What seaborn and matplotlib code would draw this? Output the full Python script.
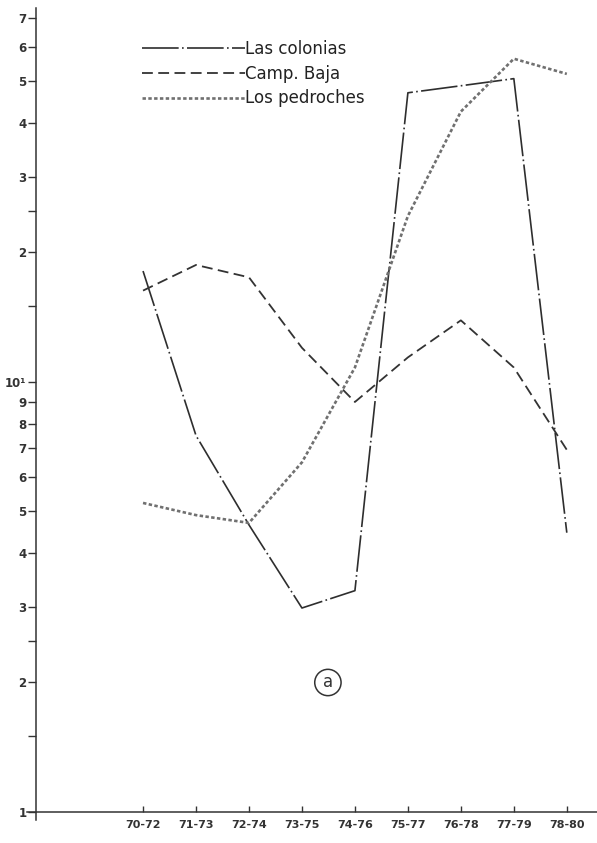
import matplotlib
matplotlib.use("Agg")
import matplotlib.pyplot as plt
from matplotlib.ticker import FixedLocator, FixedFormatter, NullFormatter
import numpy as np
import pandas as pd
import seaborn as sns

# datos (escala logaritmica)
periodos = ["70-72", "71-73", "72-74", "73-75", "74-76", "75-77", "76-78", "77-79", "78-80"]
las_colonias = [18.1, 7.5, 4.65, 2.98, 3.27, 47.0, 48.8, 50.7, 4.46]
camp_baja = [16.3, 18.7, 17.5, 12.0, 8.98, 11.4, 13.9, 10.8, 6.95]
los_pedroches = [5.23, 4.9, 4.7, 6.5, 10.8, 24.3, 42.5, 56.4, 52.0]
series = ["Las colonias", "Camp. Baja", "Los pedroches"]

y_ticks = [1, 2, 3, 4, 5, 6, 7, 8, 9, 10, 20, 30, 40, 50, 60, 70]
y_labels = ["1", "2", "3", "4", "5", "6", "7", "8", "9", "10¹", "2", "3", "4", "5", "6", "7"]
y_minor = [1.5, 2.5, 15, 25]

df = pd.DataFrame({
    "periodo": periodos * 3,
    "valor": las_colonias + camp_baja + los_pedroches,
    "serie": [s for s in series for _ in periodos],
})

sns.set_theme(style="ticks")
plt.rcParams["font.family"] = ["DejaVu Sans"]

W, H = 597, 843
fig = plt.figure(figsize=(W / 100, H / 100), dpi=100)
# posicion de los ejes en pixeles
px_left, px_right, px_bottom, px_top = 26.5, 597, 819.6, 8
ax = fig.add_axes([px_left / W, (H - px_bottom) / H,
                   (px_right - px_left) / W, (px_bottom - px_top) / H])

palette = {"Las colonias": "#2e2e2e", "Camp. Baja": "#333333", "Los pedroches": "#707070"}
dashes = {"Las colonias": (22, 2, 1, 2), "Camp. Baja": (6, 3), "Los pedroches": (1.3, 0.9)}
sizes = {"Las colonias": 1.2, "Camp. Baja": 1.3, "Los pedroches": 1.9}

sns.lineplot(data=df, x="periodo", y="valor", hue="serie", style="serie", size="serie",
             palette=palette, dashes=dashes, sizes=sizes, hue_order=series,
             style_order=series, size_order=series, sort=False, legend=False, ax=ax)

ax.set_yscale("log")
ax.set_ylim(0.96, 74)
ax.set_xlim(-2.2, 8.57)
ax.spines["left"].set_position(("data", -2.02))
ax.spines["bottom"].set_position(("data", 1))
ax.spines["top"].set_visible(False)
ax.spines["right"].set_visible(False)
for s in ["left", "bottom"]:
    ax.spines[s].set_color("#333333")
    ax.spines[s].set_linewidth(1.1)

ax.yaxis.set_major_locator(FixedLocator(y_ticks))
ax.yaxis.set_major_formatter(FixedFormatter(y_labels))
ax.yaxis.set_minor_locator(FixedLocator(y_minor))
ax.yaxis.set_minor_formatter(NullFormatter())
ax.tick_params(axis="y", which="both", direction="out", length=6, width=1,
               pad=1, labelsize=8.5, colors="#333333")
ax.tick_params(axis="x", direction="in", length=4, width=1, pad=6,
               labelsize=8, colors="#333333")
ax.set_xticks(range(len(periodos)))
ax.set_xticklabels(periodos)
ax.set_xlabel("")
ax.set_ylabel("")
for lab in ax.get_yticklabels() + ax.get_xticklabels():
    lab.set_fontweight("semibold")

# leyenda
handles = ax.get_lines()[:3]
leg = ax.legend(handles, series, loc="upper left", bbox_to_anchor=(0.19, 0.969),
                frameon=False, handlelength=6.2, handletextpad=0.0,
                labelspacing=0.41, fontsize=12, borderaxespad=0)
for t in leg.get_texts():
    t.set_color("#222222")

ax.text(3.49, 2.0, "a", ha="center", va="center", fontsize=12, color="#333333",
        bbox=dict(boxstyle="circle,pad=0.25", fc="none", ec="#333333", lw=1.1))

fig.savefig("out.png", dpi=100)
